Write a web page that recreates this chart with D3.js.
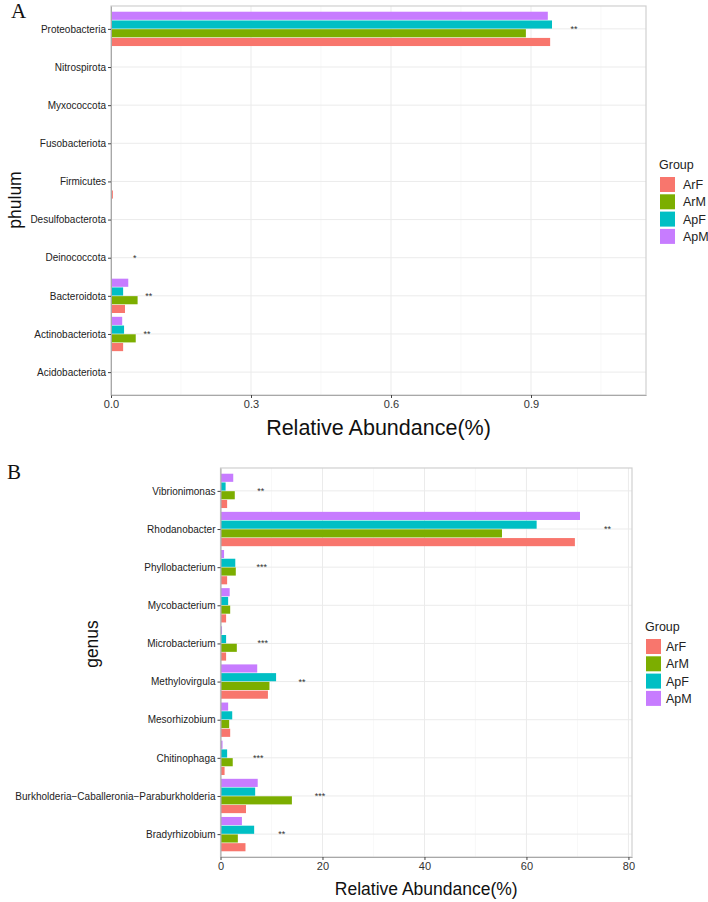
<!DOCTYPE html>
<html><head><meta charset="utf-8">
<script src="https://cdn.jsdelivr.net/npm/d3@7"></script>
<style>body{margin:0;background:#fff}svg{display:block}svg{font-family:"Liberation Sans",Arial,sans-serif}</style>
</head><body>
<svg id="chart" width="708" height="902"></svg>
<script>
const groups = ["ArF", "ArM", "ApF", "ApM"];
const groupColors = ["#F8766D", "#7CAE00", "#00BFC4", "#C77CFF"];

// Panel A (phylum)
const phylumCats = ["Proteobacteria", "Nitrospirota", "Myxococcota", "Fusobacteriota", "Firmicutes",
  "Desulfobacterota", "Deinococcota", "Bacteroidota", "Actinobacteriota", "Acidobacteriota"];
const phylumArF = [0.941, 0.0004, 0.0003, 0.0002, 0.004, 0.0005, 0.0002, 0.030, 0.026, 0.0003];
const phylumArM = [0.889, 0.0004, 0.0003, 0.0002, 0.001, 0.0004, 0.0003, 0.057, 0.053, 0.0003];
const phylumApF = [0.945, 0.0003, 0.0002, 0.0001, 0.001, 0.0003, 0.0001, 0.026, 0.028, 0.0002];
const phylumApM = [0.936, 0.0003, 0.0002, 0.0001, 0.001, 0.0003, 0.0001, 0.037, 0.024, 0.0002];
const phylumSigCats = ["Proteobacteria", "Deinococcota", "Bacteroidota", "Actinobacteriota"];
const phylumSigLabels = ["**", "*", "**", "**"];
const phylumSigPos = [0.992, 0.051, 0.081, 0.077];
const phylumTicks = [0, 0.3, 0.6, 0.9];
const phylumTickLabels = ["0.0", "0.3", "0.6", "0.9"];

// Panel B (genus)
const genusCats = ["Vibrionimonas", "Rhodanobacter", "Phyllobacterium", "Mycobacterium", "Microbacterium",
  "Methylovirgula", "Mesorhizobium", "Chitinophaga", "Burkholderia\u2212Caballeronia\u2212Paraburkholderia", "Bradyrhizobium"];
const genusArF = [1.3, 69.5, 1.3, 1.1, 1.1, 9.3, 1.9, 0.8, 5.0, 4.9];
const genusArM = [2.8, 55.2, 3.0, 1.9, 3.2, 9.6, 1.7, 2.4, 14.0, 3.4];
const genusApF = [1.0, 62.0, 2.9, 1.5, 1.1, 10.9, 2.3, 1.3, 6.8, 6.6];
const genusApM = [2.5, 70.5, 0.7, 1.8, 0.3, 7.2, 1.5, 0.4, 7.3, 4.2];
const genusSigCats = ["Vibrionimonas", "Rhodanobacter", "Phyllobacterium", "Microbacterium",
  "Methylovirgula", "Chitinophaga", "Burkholderia\u2212Caballeronia\u2212Paraburkholderia", "Bradyrhizobium"];
const genusSigLabels = ["**", "**", "***", "***", "**", "***", "***", "**"];
const genusSigPos = [7.9, 75.9, 8.1, 8.3, 16.0, 7.4, 19.5, 12.0];
const genusTicks = [0, 20, 40, 60, 80];
const genusTickLabels = ["0", "20", "40", "60", "80"];

const svg = d3.select("#chart");

function drawPanel(cfg) {
  const g = svg.append("g");
  const x = d3.scaleLinear().domain([0, cfg.xMax]).range([cfg.left, cfg.right]);
  const y = d3.scalePoint().domain(cfg.cats).range([cfg.top, cfg.bottom]).padding(0.6);
  const step = y.step();
  const dodge = d3.scaleBand().domain(["ApM", "ApF", "ArM", "ArF"])
    .range([-0.45 * step, 0.45 * step]).paddingInner(0.07);
  const color = d3.scaleOrdinal().domain(groups).range(groupColors);

  // background grid
  const minor = cfg.ticks.slice(0, -1).map((t, i) => (t + cfg.ticks[i + 1]) / 2)
    .concat([cfg.ticks[cfg.ticks.length - 1] + (cfg.ticks[1] - cfg.ticks[0]) / 2])
    .filter(v => v < cfg.xMax);
  g.selectAll(".minor").data(minor).join("line")
    .attr("x1", d => x(d)).attr("x2", d => x(d)).attr("y1", cfg.top).attr("y2", cfg.bottom)
    .attr("stroke", "#f3f3f3").attr("stroke-width", 0.6);
  g.selectAll(".major").data(cfg.ticks).join("line")
    .attr("x1", d => x(d)).attr("x2", d => x(d)).attr("y1", cfg.top).attr("y2", cfg.bottom)
    .attr("stroke", "#ebebeb").attr("stroke-width", 1);
  g.selectAll(".hgrid").data(cfg.cats).join("line")
    .attr("x1", cfg.left).attr("x2", cfg.right).attr("y1", d => y(d)).attr("y2", d => y(d))
    .attr("stroke", "#ebebeb").attr("stroke-width", 1);

  // bars
  const rows = [];
  cfg.cats.forEach((c, i) => {
    groups.forEach((gr, j) => rows.push({cat: c, group: gr, value: cfg.series[j][i]}));
  });
  g.selectAll(".bar").data(rows).join("rect")
    .attr("x", x(0))
    .attr("y", d => y(d.cat) + dodge(d.group))
    .attr("width", d => x(d.value) - x(0))
    .attr("height", dodge.bandwidth())
    .attr("fill", d => color(d.group));

  // significance labels
  g.selectAll(".sig").data(cfg.sigCats).join("text")
    .attr("x", (d, i) => x(cfg.sigPos[i]))
    .attr("y", d => y(d) + 3)
    .attr("text-anchor", "middle")
    .attr("font-size", 9).attr("fill", "#333")
    .text((d, i) => cfg.sigLabels[i]);

  // border
  g.append("rect").attr("x", cfg.left).attr("y", cfg.top)
    .attr("width", cfg.right - cfg.left).attr("height", cfg.bottom - cfg.top)
    .attr("fill", "none").attr("stroke", "#d0d0d0").attr("stroke-width", 1.2);

  // axes
  const xAxis = g.append("g").attr("transform", `translate(0,${cfg.bottom})`)
    .call(d3.axisBottom(x).tickValues(cfg.ticks).tickFormat((d, i) => cfg.tickLabels[i]).tickSize(3).tickSizeOuter(0));
  const yAxis = g.append("g").attr("transform", `translate(${cfg.left},0)`)
    .call(d3.axisLeft(y).tickSize(3).tickSizeOuter(0));
  [xAxis, yAxis].forEach(a => {
    a.attr("font-family", null);
    a.select(".domain").attr("stroke", "#a8a8a8").attr("stroke-width", 1);
    a.selectAll(".tick line").attr("stroke", "#444");
  });
  xAxis.selectAll("text").attr("font-size", 11).attr("fill", "#333").attr("dy", "0.85em").attr("y", 4);
  yAxis.selectAll("text").attr("font-size", 10).attr("fill", "#222").attr("x", -5);

  // axis titles
  svg.append("text").attr("x", (cfg.left + cfg.right) / 2).attr("y", cfg.xTitleY)
    .attr("text-anchor", "middle").attr("font-size", cfg.xTitleSize).attr("fill", "#111")
    .text("Relative Abundance(%)");
  svg.append("text").attr("transform", `translate(${cfg.yTitleX},${cfg.yTitleY}) rotate(-90)`)
    .attr("text-anchor", "middle").attr("dominant-baseline", "central")
    .attr("font-size", 17.5).attr("fill", "#111").text(cfg.yTitle);

  // panel letter
  svg.append("text").attr("x", cfg.letterX).attr("y", cfg.letterY)
    .style("font-family", "'Liberation Serif','Times New Roman',serif").attr("font-size", 21)
    .attr("fill", "#111").text(cfg.letter);

  // legend
  const lg = svg.append("g").attr("transform", `translate(${cfg.legX},${cfg.legY})`);
  lg.append("text").attr("x", 0).attr("y", 0).attr("font-size", 12.5).attr("fill", "#222").text("Group");
  groups.forEach((gr, i) => {
    lg.append("rect").attr("x", 1).attr("y", 8 + i * 17.3).attr("width", 15).attr("height", 15)
      .attr("fill", color(gr));
    lg.append("text").attr("x", cfg.legLabelDx).attr("y", 8 + i * 17.3 + 12).attr("font-size", 12.5)
      .attr("fill", "#222").text(gr);
  });
}

drawPanel({
  cats: phylumCats, series: [phylumArF, phylumArM, phylumApF, phylumApM],
  sigCats: phylumSigCats, sigLabels: phylumSigLabels, sigPos: phylumSigPos,
  ticks: phylumTicks, tickLabels: phylumTickLabels, xMax: 1.1464,
  left: 111, right: 646, top: 6, bottom: 395,
  xTitleY: 435, xTitleSize: 21.5, yTitle: "phulum", yTitleX: 15, yTitleY: 200,
  letter: "A", letterX: 11, letterY: 18,
  legX: 659, legY: 169, legLabelDx: 24
});

drawPanel({
  cats: genusCats, series: [genusArF, genusArM, genusApF, genusApM],
  sigCats: genusSigCats, sigLabels: genusSigLabels, sigPos: genusSigPos,
  ticks: genusTicks, tickLabels: genusTickLabels, xMax: 80.7,
  left: 220.5, right: 632, top: 468, bottom: 857,
  xTitleY: 895, xTitleSize: 17.5, yTitle: "genus", yTitleX: 92, yTitleY: 644,
  letter: "B", letterX: 7, letterY: 479,
  legX: 645, legY: 631, legLabelDx: 21
});
</script>
</body></html>
